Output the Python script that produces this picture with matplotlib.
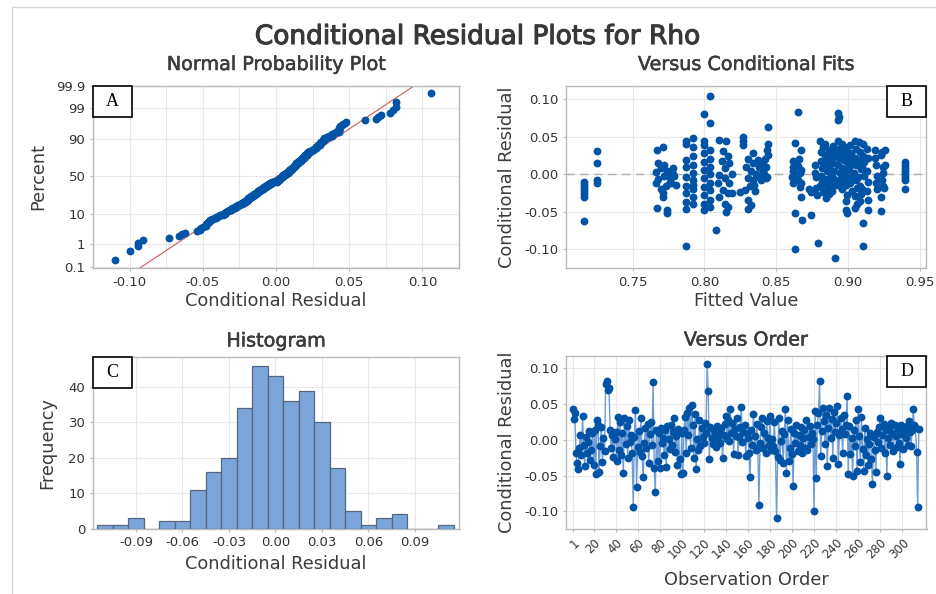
import matplotlib
matplotlib.use("Agg")
import matplotlib.pyplot as plt
from matplotlib.patches import Rectangle
import matplotlib.patheffects as pe
import numpy as np
from statistics import NormalDist

# ---------------- data ----------------
# Conditional residuals in observation order (panel D, also used for panel A)
resid_order = [
    0.043, 0.029, 0.038, -0.018, -0.032, -0.041, -0.012, 0.006, -0.022, 0.033,
    -0.008, -0.036, 0.004, -0.019, -0.003, 0.012, -0.028, -0.015, 0.009, -0.035,
    0.014, -0.048, 0.027, 0.021, -0.045, -0.009, 0.018, -0.031, 0.002, -0.016,
    0.078, 0.082, 0.070, 0.072, 0.014, -0.011, 0.006, -0.024, 0.001, 0.011,
    -0.030, 0.032, -0.014, 0.025, -0.021, 0.009, -0.047, 0.031, -0.006, 0.019,
    -0.026, 0.028, -0.003, 0.007, -0.019, -0.094, 0.004, 0.041, -0.066, -0.010,
    0.012, -0.017, 0.030, -0.023, -0.052, -0.005, 0.016, -0.012, 0.022, -0.033,
    0.008, 0.025, -0.007, 0.080, -0.040, -0.073, 0.013, -0.030, 0.010, -0.039,
    0.017, -0.004, 0.003, -0.022, 0.014, -0.038, 0.019, 0.001, -0.013, 0.021,
    -0.008, 0.011, 0.030, -0.017, 0.005, -0.035, 0.015, -0.027, -0.048, 0.009,
    -0.046, 0.013, 0.032, -0.019, 0.038, 0.006, 0.044, -0.012, 0.048, 0.021,
    -0.025, 0.036, -0.041, 0.001, -0.015, 0.027, -0.009, 0.017, 0.004, -0.004,
    0.023, 0.010, 0.106, 0.068, -0.027, 0.018, 0.002, -0.006, 0.014, 0.008,
    -0.010, 0.019, 0.003, 0.012, -0.004, 0.016, -0.026, 0.007, 0.022, 0.033,
    0.001, 0.028, -0.002, 0.043, 0.010, 0.024, -0.020, 0.015, 0.005, 0.031,
    -0.021, 0.004, 0.018, 0.046, -0.003, 0.011, 0.020, -0.023, 0.009, 0.002,
    -0.018, -0.052, 0.013, -0.008, 0.036, 0.005, -0.015, 0.022, -0.011, -0.091,
    -0.005, 0.018, 0.030, -0.012, 0.009, -0.019, 0.026, 0.003, -0.007, 0.033,
    -0.014, 0.001, -0.009, 0.025, -0.016, -0.110, -0.024, 0.030, -0.028, -0.002,
    0.012, -0.033, 0.008, 0.043, -0.046, 0.028, -0.030, -0.012, 0.015, -0.020,
    -0.064, 0.010, -0.004, 0.021, -0.016, 0.006, -0.008, 0.018, -0.019, 0.003,
    0.014, -0.011, 0.027, -0.014, 0.004, 0.019, -0.006, 0.009, 0.001, -0.100,
    0.040, -0.054, 0.020, 0.038, 0.082, -0.023, 0.012, 0.044, 0.026, -0.006,
    0.035, -0.036, 0.017, 0.045, 0.002, 0.029, -0.025, 0.039, 0.011, 0.023,
    0.047, -0.034, 0.006, 0.031, 0.015, -0.018, 0.034, 0.008, 0.021, 0.061,
    -0.048, 0.019, -0.020, 0.003, -0.051, 0.014, -0.009, 0.027, -0.044, 0.043,
    0.005, -0.031, 0.032, -0.013, -0.043, 0.016, -0.022, 0.001, -0.035, -0.006,
    0.009, -0.027, -0.062, 0.004, -0.015, -0.045, 0.011, -0.003, 0.018, 0.030,
    -0.012, 0.007, 0.022, -0.019, 0.013, -0.050, 0.002, 0.017, -0.008, 0.024,
    0.010, -0.016, 0.020, 0.005, -0.010, 0.015, -0.004, -0.034, 0.021, 0.008,
    -0.013, 0.012, 0.003, 0.019, -0.007, 0.026, 0.011, -0.009, 0.014, 0.043,
    0.020, 0.016, -0.017, -0.094, 0.015,
]

# Panel B: fitted values and their conditional residuals
fit_values = [
    0.716, 0.716, 0.716, 0.716, 0.716, 0.716, 0.716,
    0.725, 0.725, 0.725, 0.725,
    0.767, 0.771, 0.768, 0.770, 0.766, 0.768, 0.772, 0.774, 0.776, 0.778, 0.779, 0.777,
    0.773, 0.771, 0.771, 0.767, 0.774, 0.774, 0.776, 0.780, 0.766, 0.770, 0.778, 0.772,
    0.787, 0.787, 0.787, 0.787, 0.787, 0.787, 0.787, 0.787, 0.787, 0.787,
    0.792, 0.792, 0.792, 0.792, 0.792, 0.792, 0.792, 0.792, 0.792, 0.792,
    0.800, 0.800, 0.800, 0.800, 0.800, 0.800, 0.800, 0.800, 0.800, 0.800, 0.800,
    0.804, 0.804, 0.804, 0.804, 0.804, 0.804, 0.804, 0.804, 0.804, 0.804,
    0.808,
    0.8105, 0.8151, 0.8128, 0.8163, 0.8174, 0.8140, 0.8105, 0.8140, 0.8174, 0.8128,
    0.8163, 0.8105, 0.8140, 0.8163, 0.8151, 0.8193, 0.8093, 0.8190, 0.8120,
    0.8268, 0.8268, 0.8268, 0.8302, 0.8337, 0.8291, 0.8325, 0.8360, 0.8302, 0.8337,
    0.8383, 0.8418, 0.8429, 0.8436, 0.8441, 0.8425, 0.8406, 0.8280, 0.8314, 0.8302,
    0.8325, 0.8302, 0.8348, 0.8395, 0.8429, 0.8372, 0.8337, 0.8440, 0.8436, 0.8410,
    0.8355, 0.8250, 0.8380, 0.8440,
    0.8648, 0.8627, 0.8673, 0.8615, 0.8650, 0.8615, 0.8662, 0.8612, 0.8650, 0.8673,
    0.8615, 0.8662, 0.8673, 0.8627, 0.8680, 0.8627, 0.8620, 0.8655, 0.8640, 0.8670,
    0.8743, 0.8743, 0.8725,
    0.8768, 0.8775, 0.8779, 0.8785, 0.8790, 0.8770,
    0.8805, 0.8812, 0.8808, 0.8815, 0.8810, 0.8818, 0.8806, 0.8822, 0.8825,
    0.8838, 0.8842, 0.8845, 0.8850, 0.8836, 0.8848, 0.8853, 0.8843, 0.8856,
    0.8865, 0.8872, 0.8868, 0.8878, 0.8870, 0.8875, 0.8880, 0.8866,
    0.8895, 0.8900, 0.8892, 0.8905, 0.8898, 0.8908, 0.8912, 0.8890, 0.8902,
    0.8933, 0.8934, 0.8932, 0.8928, 0.8935, 0.8938, 0.8930, 0.8942, 0.8937, 0.8945, 0.8940,
    0.8958, 0.8962, 0.8968, 0.8955, 0.8965, 0.8972, 0.8960, 0.8975, 0.8970,
    0.8985, 0.8990, 0.8995, 0.8982, 0.8988, 0.8992, 0.8986, 0.8988, 0.8993, 0.8998,
    0.9012, 0.9018, 0.9022, 0.9008, 0.9025, 0.9015, 0.9028, 0.9010,
    0.9045, 0.9052, 0.9048, 0.9058, 0.9042, 0.9055, 0.9060, 0.9050, 0.9062, 0.9048,
    0.9075, 0.9082, 0.9078, 0.9088, 0.9072, 0.9085, 0.9090, 0.9080,
    0.9102, 0.9105, 0.9100, 0.9108, 0.9098, 0.9102, 0.9102, 0.9110,
    0.9130, 0.9135, 0.9128, 0.9140, 0.9137, 0.9137, 0.9132,
    0.9185, 0.9190, 0.9195, 0.9200, 0.9192, 0.9198,
    0.9230, 0.9236, 0.9240, 0.9245, 0.9238, 0.9242, 0.9250, 0.9229, 0.9229, 0.9255, 0.9260,
    0.9398, 0.9398, 0.9398, 0.9398, 0.9398, 0.9398, 0.9398, 0.9398,
]
fit_resid = [
    -0.010, -0.014, -0.018, -0.022, -0.026, -0.030, -0.062,
    0.031, 0.015, -0.008, -0.011,
    0.033, 0.037, 0.015, 0.008, 0.003, -0.006, -0.002, 0.004, -0.004, 0.008, -0.002, -0.012,
    -0.016, -0.025, -0.030, -0.045, -0.048, -0.052, -0.010, -0.014, -0.012, -0.020, 0.000, 0.012,
    0.044, 0.040, 0.019, 0.010, -0.004, -0.016, -0.025, -0.037, -0.046, -0.095,
    0.048, 0.036, 0.024, 0.012, 0.002, -0.008, -0.014, -0.020, -0.030, -0.040,
    0.081, 0.044, 0.039, 0.028, 0.017, 0.006, -0.005, -0.017, -0.028, -0.039, -0.048,
    0.105, 0.068, 0.032, 0.021, 0.010, 0.000, -0.012, -0.021, -0.034, -0.044,
    -0.074,
    0.046, 0.044, 0.031, 0.024, 0.015, 0.008, -0.001, -0.005, -0.012, -0.021,
    -0.025, -0.030, -0.039, -0.043, -0.050, -0.025, -0.012, 0.000, 0.018,
    0.050, 0.045, 0.039, 0.021, 0.015, 0.010, 0.004, 0.001, -0.005, -0.008,
    -0.003, 0.001, 0.010, 0.032, 0.063, 0.021, 0.005, -0.021, -0.016, -0.034,
    -0.041, -0.046, -0.014, -0.008, -0.005, 0.019, 0.028, 0.026, -0.003, 0.014,
    -0.022, -0.024, 0.010, 0.040,
    0.083, 0.042, 0.032, 0.018, 0.011, 0.004, 0.002, -0.004, -0.008, -0.012,
    -0.012, -0.017, -0.030, -0.052, -0.061, -0.099, 0.010, 0.020, -0.002, 0.006,
    -0.023, -0.054, -0.019,
    0.012, -0.004, -0.018, -0.027, -0.091, 0.002,
    0.044, 0.030, 0.018, 0.008, -0.002, -0.010, -0.016, -0.024, 0.036,
    0.041, 0.026, 0.014, 0.004, -0.006, -0.013, -0.021, -0.031, 0.021,
    0.033, 0.020, 0.009, -0.001, -0.009, -0.018, 0.027, -0.026,
    0.038, 0.025, 0.015, 0.005, -0.005, -0.014, -0.112, -0.022, 0.031,
    0.082, 0.077, 0.072, 0.044, 0.034, 0.022, 0.012, 0.002, -0.007, -0.016, 0.028,
    0.040, 0.030, 0.019, 0.009, -0.001, -0.010, -0.020, 0.024, 0.036,
    0.033, 0.016, 0.006, -0.004, -0.014, -0.027, -0.036, -0.047, -0.051, 0.026,
    0.039, 0.028, 0.018, 0.008, -0.002, -0.012, -0.022, 0.013,
    0.045, 0.034, 0.022, 0.012, 0.002, -0.008, -0.018, -0.029, -0.040, -0.045,
    0.043, 0.030, 0.019, 0.007, -0.004, -0.015, -0.026, -0.035,
    0.040, 0.025, 0.010, -0.002, -0.020, -0.065, -0.095, 0.016,
    0.034, 0.022, 0.005, -0.010, -0.034, -0.047, -0.022,
    0.033, 0.022, 0.012, -0.002, -0.012, -0.020,
    0.026, 0.030, 0.010, 0.002, -0.007, -0.015, -0.018, -0.030, -0.049, 0.033, 0.012,
    0.016, 0.012, 0.008, 0.004, 0.000, -0.004, -0.008, -0.019,
]

# Panel C: histogram bin centres and frequencies
hist_centers = [-0.11, -0.10, -0.09, -0.08, -0.07, -0.06, -0.05, -0.04, -0.03, -0.02, -0.01,
                0.00, 0.01, 0.02, 0.03, 0.04, 0.05, 0.06, 0.07, 0.08, 0.09, 0.10, 0.11]
hist_counts = [1, 1, 3, 0, 2, 2, 11, 16, 20, 34, 46,
               43, 36, 39, 30, 17, 5, 1, 3, 4, 0, 0, 1]

# tick values / labels
pct_ticks = [0.1, 1, 10, 50, 90, 99, 99.9]
pct_labels = ["0.1", "1", "10", "50", "90", "99", "99.9"]
a_xticks = [-0.10, -0.05, 0.00, 0.05, 0.10]
a_xlabels = ["-0.10", "-0.05", "0.00", "0.05", "0.10"]
b_xticks = [0.75, 0.80, 0.85, 0.90, 0.95]
b_xlabels = ["0.75", "0.80", "0.85", "0.90", "0.95"]
res_ticks = [-0.10, -0.05, 0.00, 0.05, 0.10]
res_labels = ["-0.10", "-0.05", "0.00", "0.05", "0.10"]
c_xticks = [-0.09, -0.06, -0.03, 0.00, 0.03, 0.06, 0.09]
c_xlabels = ["-0.09", "-0.06", "-0.03", "0.00", "0.03", "0.06", "0.09"]
c_yticks = [0, 10, 20, 30, 40]
order_ticks = [1, 20, 40, 60, 80, 100, 120, 140, 160, 180, 200, 220, 240, 260, 280, 300]

# ---------------- style ----------------
W, H = 937, 594
plt.rcParams["font.family"] = ["DejaVu Sans"]
DOT = "#0153A5"
LINE = "#6E9DD6"
GRID = "#e8e8e8"
SPINE = "#b9b9b9"
TXT = "#3c3c3c"

fig = plt.figure(figsize=(W / 100, H / 100), dpi=100)
fig.patch.set_facecolor("white")

# outer frame
fig.add_artist(Rectangle((12 / W, -0.1), 1.2, 1 - 7 / H + 0.1, transform=fig.transFigure,
                         fill=False, ec="#d6d6d6", lw=1.0))


def ax_at(l, t, r, b):
    return fig.add_axes([l / W, 1 - b / H, (r - l) / W, (b - t) / H])


def style(ax, xsize=9.5, ysize=9.5):
    for s in ax.spines.values():
        s.set_color(SPINE)
        s.set_linewidth(1.0)
    ax.tick_params(axis="both", which="major", length=2.5, width=0.8, color=SPINE,
                   labelcolor="#333333", pad=3)
    ax.tick_params(axis="x", labelsize=xsize)
    ax.tick_params(axis="y", labelsize=ysize)
    ax.tick_params(which="minor", length=0)
    ax.grid(True, which="both", color=GRID, lw=0.8, zorder=0)
    ax.set_axisbelow(True)


def ftext(x, y, s, size, color=TXT, stroke=0.0, **kw):
    t = fig.text(x / W, 1 - y / H, s, fontsize=size, color=color, **kw)
    if stroke > 0:
        t.set_path_effects([pe.withStroke(linewidth=stroke, foreground=color)])
    return t


def letter_box(ax, letter, right=False):
    bb = ax.get_position()
    wpx = bb.width * W
    hpx = bb.height * H
    bw, bh = 39 / wpx, 31 / hpx
    x0 = 1 - bw if right else 0
    ax.add_patch(Rectangle((x0, 1 - bh), bw, bh, transform=ax.transAxes, fc="white",
                           ec="black", lw=1.2, zorder=10, clip_on=False))
    ax.text(x0 + bw / 2, 1 - bh / 2, letter, transform=ax.transAxes, ha="center", va="center",
            fontsize=13, family="Liberation Serif", color="black", zorder=11)


# ---------------- Panel A: normal probability plot ----------------
axA = ax_at(93, 86, 459, 268)
r = np.sort(np.array(resid_order))
n = len(r)
nd = NormalDist()
zq = np.array([nd.inv_cdf((i - 0.3) / (n + 0.4)) for i in range(1, n + 1)])
mu, sd = r.mean(), r.std(ddof=1)
zl = np.array([-3.4, 3.4])
axA.plot(mu + sd * zl, zl, color="#d26a6a", lw=0.9, zorder=2)
axA.scatter(r, zq, s=32, color=DOT, linewidths=0, zorder=3)
axA.set_xlim(-0.124, 0.1195)
axA.set_ylim(-3.13, 3.09)
axA.set_xticks(a_xticks)
axA.set_xticklabels(a_xlabels)
axA.set_xticks(np.arange(-0.125, 0.126, 0.025), minor=True)
axA.set_yticks([nd.inv_cdf(p / 100) for p in pct_ticks])
axA.set_yticklabels(pct_labels)
style(axA)
letter_box(axA, "A")

# ---------------- Panel B: versus fits ----------------
axB = ax_at(566, 86, 926, 268)
axB.axhline(0, color="#b0b0b0", lw=1.0, ls=(0, (6, 4)), zorder=1)
axB.scatter(fit_values, fit_resid, s=32, color=DOT, linewidths=0, zorder=3)
axB.set_xlim(0.7037, 0.9542)
axB.set_ylim(-0.125, 0.1178)
axB.set_xticks(b_xticks)
axB.set_xticklabels(b_xlabels)
axB.set_yticks(res_ticks)
axB.set_yticklabels(res_labels)
style(axB)
letter_box(axB, "B", right=True)

# ---------------- Panel C: histogram ----------------
axC = ax_at(93, 357, 459, 528.5)
axC.bar(hist_centers, hist_counts, width=0.01, color="#7BA6DA", edgecolor="#56667e",
        linewidth=0.9, zorder=3)
axC.set_xlim(-0.1177, 0.1184)
axC.set_ylim(0, 48.5)
axC.set_xticks(c_xticks)
axC.set_xticklabels(c_xlabels)
axC.set_yticks(c_yticks)
style(axC)
letter_box(axC, "C")

# ---------------- Panel D: versus order ----------------
axD = ax_at(566, 356, 926.5, 528.7)
obs = np.arange(1, len(resid_order) + 1)
axD.plot(obs, resid_order, color=LINE, lw=1.0, zorder=2)
axD.scatter(obs, resid_order, s=32, color=DOT, linewidths=0, zorder=3)
axD.set_xlim(-5, 322)
axD.set_ylim(-0.1243, 0.117)
axD.set_xticks(order_ticks)
axD.set_xticklabels([str(t) for t in order_ticks], rotation=45, ha="right",
                    rotation_mode="anchor")
axD.set_yticks(res_ticks)
axD.set_yticklabels(res_labels)
style(axD, xsize=8.5)
letter_box(axD, "D", right=True)

# ---------------- texts ----------------
ftext(478, 44, "Conditional Residual Plots for Rho", 19, color="#383838", stroke=0.8,
      ha="center", va="baseline")
ftext(276, 70, "Normal Probability Plot", 13.8, stroke=0.4, ha="center", va="baseline")
ftext(746, 70, "Versus Conditional Fits", 13.8, stroke=0.4, ha="center", va="baseline")
ftext(276, 346.5, "Histogram", 13.8, stroke=0.4, ha="center", va="baseline")
ftext(746, 345.5, "Versus Order", 13.8, stroke=0.4, ha="center", va="baseline")

ftext(276, 306, "Conditional Residual", 12.8, ha="center", va="baseline")
ftext(746, 306, "Fitted Value", 12.8, ha="center", va="baseline")
ftext(276, 569, "Conditional Residual", 12.8, ha="center", va="baseline")
ftext(746, 585, "Observation Order", 12.8, ha="center", va="baseline")

ftext(43, 177, "Percent", 12.8, ha="center", va="baseline", rotation=90, rotation_mode="anchor")
ftext(52, 443, "Frequency", 12.8, ha="center", va="baseline", rotation=90, rotation_mode="anchor")
ftext(511.5, 177, "Conditional Residual", 12.8, ha="center", va="baseline", rotation=90,
      rotation_mode="anchor")
ftext(511.5, 442, "Conditional Residual", 12.8, ha="center", va="baseline", rotation=90,
      rotation_mode="anchor")

fig.savefig("out.png", dpi=100, facecolor="white")
